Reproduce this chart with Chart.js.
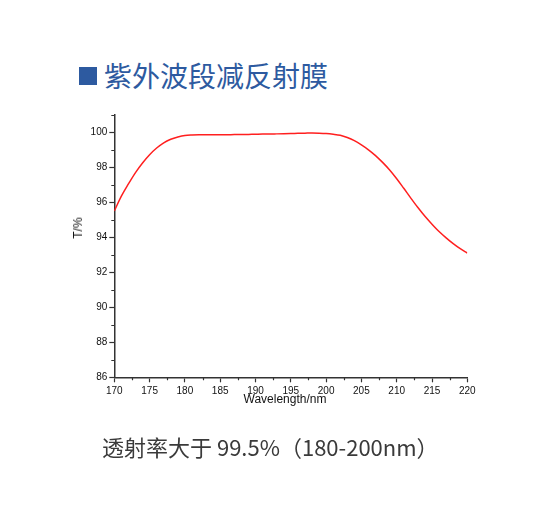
<!DOCTYPE html>
<html>
<head>
<meta charset="utf-8">
<script src="https://cdn.jsdelivr.net/npm/chart.js@4.4.1/dist/chart.umd.min.js"></script>
<style>
  html, body { margin:0; padding:0; background:#fff; }
  body { width:536px; height:514px; position:relative; overflow:hidden; }
  #c { position:absolute; left:0; top:0; }
  .sq { position:absolute; left:79px; top:67px; width:18px; height:18px; background:#2d5aa0; }
  .title { position:absolute; left:104px; top:61px; font-family:"Noto Sans CJK SC"; font-size:28px; line-height:28px; color:#2d5aa0; white-space:nowrap; }
  .caption { position:absolute; left:102px; top:435px; font-family:"Noto Sans CJK SC"; font-size:22px; line-height:22px; color:#3a3a3a; white-space:nowrap; }
  .ytitle { position:absolute; left:78px; top:228px; font-family:"Liberation Sans", Arial; font-size:12px; line-height:12px; color:#111; white-space:nowrap; transform:translate(-50%,-50%) rotate(-90deg); }
  .xtitle { position:absolute; left:285px; top:392px; font-family:"Liberation Sans", Arial; font-size:12px; line-height:14px; color:#111; white-space:nowrap; transform:translateX(-50%); }
</style>
</head>
<body>
<div class="sq"></div>
<div class="title">紫外波段减反射膜</div>
<canvas id="c" width="536" height="514"></canvas>
<div class="ytitle">T/%</div>
<div class="xtitle">Wavelength/nm</div>
<div class="caption">透射率大于 99.5%（180-200nm）</div>
<script>
const wavelengths = [170,171,172,173,174,175,176,177,178,179,180,181,182,183,184,185,186,187,188,189,190,191,192,193,194,195,196,197,198,199,200,201,202,203,204,205,206,207,208,209,210,211,212,213,214,215,216,217,218,219,220];
const transmittance = [95.5,96.35,97.05,97.7,98.25,98.72,99.1,99.4,99.6,99.73,99.82,99.85,99.86,99.86,99.86,99.86,99.86,99.87,99.87,99.88,99.89,99.9,99.9,99.91,99.92,99.93,99.94,99.95,99.96,99.95,99.93,99.89,99.83,99.7,99.52,99.28,99.0,98.67,98.28,97.85,97.35,96.8,96.24,95.7,95.2,94.75,94.33,93.97,93.64,93.35,93.1];
const xMajorTicks = [170,175,180,185,190,195,200,205,210,215,220];
const xMinorTicks = [172.5,177.5,182.5,187.5,192.5,197.5,202.5,207.5,212.5,217.5];
const yMajorTicks = [86,88,90,92,94,96,98,100];
const yMinorTicks = [87,89,91,93,95,97,99,101];

const axisColor = '#333';
const minorTicks = {
  id: 'minorTicks',
  afterDraw(chart) {
    const ctx = chart.ctx;
    const xs = chart.scales.x, ys = chart.scales.y;
    ctx.save();
    ctx.strokeStyle = axisColor;
    ctx.lineWidth = 1.2;
    ctx.beginPath();
    xMinorTicks.forEach(v => {
      const px = Math.round(xs.getPixelForValue(v)) + 0.5;
      ctx.moveTo(px, xs.top);
      ctx.lineTo(px, xs.top + 3);
    });
    yMinorTicks.forEach(v => {
      const py = Math.round(ys.getPixelForValue(v)) + 0.5;
      ctx.moveTo(ys.right, py);
      ctx.lineTo(ys.right - 3, py);
    });
    ctx.stroke();
    ctx.restore();
  }
};

new Chart(document.getElementById('c'), {
  type: 'line',
  data: {
    datasets: [{
      data: wavelengths.map((w, i) => ({x: w, y: transmittance[i]})),
      borderColor: '#ff1f1f',
      borderWidth: 1.5,
      pointRadius: 0,
      cubicInterpolationMode: 'monotone',
      fill: false
    }]
  },
  options: {
    responsive: false,
    animation: false,
    layout: { padding: { left: 64.3, right: 68.7, top: 114.8, bottom: 106.7 } },
    plugins: { legend: { display: false }, tooltip: { enabled: false } },
    scales: {
      x: {
        type: 'linear', min: 170, max: 220,
        afterBuildTicks: s => { s.ticks = xMajorTicks.map(v => ({value: v})); },
        afterFit: s => { s.height = 30; },
        ticks: { font: { family: 'Liberation Sans', size: 10 }, color: '#111', padding: 3, maxRotation: 0 },
        grid: { drawOnChartArea: false, drawTicks: true, tickLength: 5, tickColor: axisColor, tickWidth: 1.2 },
        border: { color: axisColor, width: 1.5 }
      },
      y: {
        type: 'linear', min: 86, max: 101,
        afterBuildTicks: s => { s.ticks = yMajorTicks.map(v => ({value: v})); },
        afterFit: s => { s.width = 50; },
        ticks: { font: { family: 'Liberation Sans', size: 10 }, color: '#111', padding: 2 },
        grid: { drawOnChartArea: false, drawTicks: true, tickLength: 5, tickColor: axisColor, tickWidth: 1.2 },
        border: { color: axisColor, width: 1.5 }
      }
    }
  },
  plugins: [minorTicks]
});
</script>
</body>
</html>
